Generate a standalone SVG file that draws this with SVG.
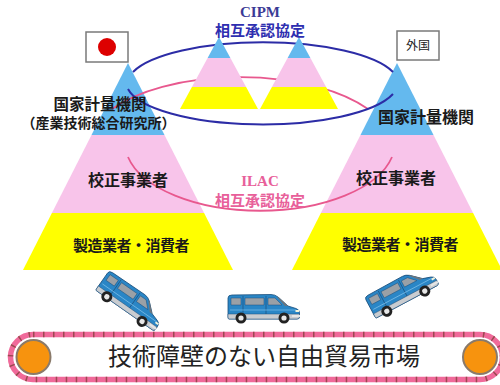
<svg xmlns="http://www.w3.org/2000/svg" xmlns:xlink="http://www.w3.org/1999/xlink" width="500" height="385" viewBox="0 0 500 385">
  <style>
    .blue { fill: #64b9ee; }
    .pink { fill: #f8c4ea; }
    .yellow { fill: #ffff00; }
    .lbl { font-family: "Noto Sans CJK JP", "Noto Sans", sans-serif; font-weight: bold; fill: #1a1a1a; text-anchor: middle; }
    .ring-blue { fill: none; stroke: #2c2ca6; stroke-width: 2; }
    .ring-pink { fill: none; stroke: #e8588e; stroke-width: 1.8; }
    .org { font-family: "Liberation Serif", serif; font-size: 15px; font-weight: bold; text-anchor: middle; }
    .agree { font-family: "Noto Sans CJK JP", sans-serif; font-weight: bold; font-size: 15px; text-anchor: middle; }
    .box { fill: #ffffff; stroke: #7a7a7a; stroke-width: 1.5; }
  </style>
  <defs>
    <!-- minivan, facing right, 74 x 31 -->
    <g id="van">
      <path d="M2,5 Q2,2 6,2 L45,1.5 Q49,1.5 52,4 L62,13 L70,15.5 Q73.5,16.5 73.5,20 L73.5,24 Q73.5,26 71,26 L3,26 Q2,26 2,24 Z" fill="#2a86c6" stroke="#1b4f7c" stroke-width="0.8"/>
      <path d="M2,21 L73.5,21 L73.5,24 Q73.5,26 71,26 L3,26 Q2,26 2,24 Z" fill="#c9ccd0" stroke="#1b4f7c" stroke-width="0.5"/>
      <path d="M5,5 L15,5 L15,12 L5,12 Z M19,5 L38,5 L38,12 L19,12 Z M42,5 L49,5 L56,12 L42,12 Z" fill="#9aa0a6" stroke="#1b4f7c" stroke-width="0.5"/>
      <path d="M51,4 L53,4.5 L62,13 L59,13 Z" fill="#6f767c"/>
      <path d="M40,3 L40,21 M17,3 L17,21" stroke="#1b4f7c" stroke-width="0.7"/>
      <path d="M4,17 L70,17" stroke="#8fcaf0" stroke-width="0.6"/>
      <rect x="69.5" y="17" width="3.5" height="2" fill="#f5f5dc"/>
      <rect x="66" y="22" width="8" height="2" fill="#e6e6e6"/>
      <circle cx="15" cy="25" r="5.5" fill="#222"/>
      <circle cx="15" cy="25" r="2.6" fill="#e8e8e8"/>
      <circle cx="58" cy="25" r="5.5" fill="#222"/>
      <circle cx="58" cy="25" r="2.6" fill="#e8e8e8"/>
    </g>
  </defs>

  <rect width="500" height="385" fill="#ffffff"/>

  <!-- large pyramid: Japan -->
  <g id="pyramid-japan">
    <polygon class="yellow" points="51.9,213 204.1,213 233,270 23,270"/>
    <polygon class="pink" points="91.5,135 164.5,135 204.1,213 51.9,213"/>
    <polygon class="blue" points="128,63 164.5,135 91.5,135"/>
  </g>

  <!-- large pyramid: foreign -->
  <g id="pyramid-foreign">
    <polygon class="yellow" points="320.9,213 473.1,213 502,270 292,270"/>
    <polygon class="pink" points="360.5,135 433.5,135 473.1,213 320.9,213"/>
    <polygon class="blue" points="397,63 433.5,135 360.5,135"/>
  </g>

  <!-- rear halves of the two rings -->
  <g id="connectors-back">
    <path class="ring-blue" d="M133,72 A136,42 0 0 1 393,72"/>
    <path class="ring-pink" d="M112,109 A151,68 0 0 1 368,109"/>
  </g>

  <!-- small pyramids inside the CIPM ring -->
  <g id="pyramid-small-left">
    <polygon class="yellow" points="191.9,87 246.1,87 258,109 180,109"/>
    <polygon class="pink" points="207.6,58 230.4,58 246.1,87 191.9,87"/>
    <polygon class="blue" points="219,37 230.4,58 207.6,58"/>
  </g>
  <g id="pyramid-small-right">
    <polygon class="yellow" points="271.9,87 326.1,87 338,109 260,109"/>
    <polygon class="pink" points="287.6,58 310.4,58 326.1,87 271.9,87"/>
    <polygon class="blue" points="299,37 310.4,58 287.6,58"/>
  </g>

  <!-- front halves of the two rings -->
  <g id="connectors">
    <path class="ring-blue" d="M128,89 A136,42 0 0 0 393,94"/>
    <path class="ring-pink" d="M128,157 A135,68 0 0 0 392,157"/>
  </g>

  <!-- agreement labels -->
  <g id="label-cipm">
    <text class="org" x="260" y="17" fill="#3b3b96">CIPM</text>
    <text class="agree" x="260" y="36" fill="#2e2eb0">相互承認協定</text>
  </g>
  <g id="label-ilac">
    <text class="org" x="260" y="186" fill="#e8609a">ILAC</text>
    <text class="agree" x="260" y="206" fill="#e8609a">相互承認協定</text>
  </g>

  <!-- flags -->
  <g id="flag-japan">
    <rect class="box" x="86" y="32" width="42" height="30"/>
    <circle cx="107" cy="47" r="9" fill="#dd0000"/>
  </g>
  <g id="flag-foreign">
    <rect class="box" x="397" y="31" width="42" height="29"/>
    <text x="418" y="50" font-family="Noto Sans CJK JP, sans-serif" font-size="12" text-anchor="middle" fill="#222">外国</text>
  </g>

  <!-- tier labels -->
  <g id="labels-japan">
    <text class="lbl" x="100" y="110" font-size="15.5">国家計量機関</text>
    <text class="lbl" x="98.5" y="128" font-size="14">（産業技術総合研究所）</text>
    <text class="lbl" x="128" y="186" font-size="16">校正事業者</text>
    <text class="lbl" x="131" y="251" font-size="15" letter-spacing="-0.5">製造業者・消費者</text>
  </g>
  <g id="labels-foreign">
    <text class="lbl" x="426" y="123" font-size="16">国家計量機関</text>
    <text class="lbl" x="396" y="184" font-size="16">校正事業者</text>
    <text class="lbl" x="400" y="250" font-size="15" letter-spacing="-0.5">製造業者・消費者</text>
  </g>

  <!-- vans -->
  <g id="vans">
    <use xlink:href="#van" href="#van" transform="translate(130,302) rotate(35) translate(-37,-16)"/>
    <use xlink:href="#van" href="#van" transform="translate(226,293)"/>
    <use xlink:href="#van" href="#van" transform="translate(402,293) rotate(-28) translate(-37,-16)"/>
  </g>

  <!-- conveyor: free-trade market -->
  <g id="market">
    <rect x="10.5" y="334.5" width="492" height="45" rx="22.5" fill="none" stroke="#f06a9a" stroke-width="5.5"/>
    <rect x="10.5" y="334.5" width="492" height="45" rx="22.5" fill="none" stroke="#9a4a50" stroke-width="5.5" stroke-dasharray="1.5 8.5"/>
    <circle cx="33.5" cy="357" r="17" fill="#f7930e" stroke="#8a7a6a" stroke-width="2"/>
    <circle cx="480" cy="357" r="17" fill="#f7930e" stroke="#8a7a6a" stroke-width="2"/>
    <text x="264" y="365" font-family="Noto Sans CJK JP, sans-serif" font-size="24" text-anchor="middle" fill="#222">技術障壁のない自由貿易市場</text>
  </g>
</svg>
